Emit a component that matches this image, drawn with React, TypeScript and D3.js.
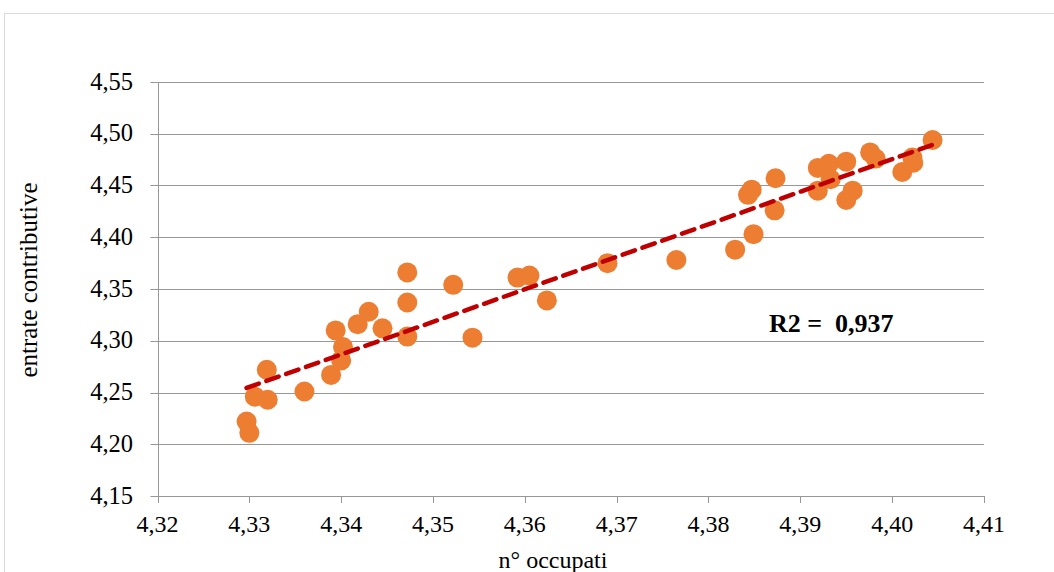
import React from "react";
import * as d3 from "d3";

const occupati: number[] = [
  4.3297, 4.33, 4.3306, 4.3319, 4.332, 4.336, 4.3389, 4.3394, 4.34, 4.3402,
  4.3418, 4.343, 4.3445, 4.3472, 4.3472, 4.3472, 4.3522, 4.3543, 4.3592, 4.3605,
  4.3624, 4.369, 4.3765, 4.3829, 4.3849, 4.3843, 4.3847, 4.3873, 4.3872, 4.3919,
  4.3931, 4.3933, 4.3919, 4.395, 4.3957, 4.395, 4.3976, 4.3982, 4.4011, 4.4022,
  4.4023, 4.4044,
];
const entrate: number[] = [
  4.222, 4.211, 4.246, 4.272, 4.243, 4.251, 4.267, 4.31, 4.281, 4.294,
  4.316, 4.328, 4.312, 4.366, 4.337, 4.304, 4.354, 4.303, 4.361, 4.363,
  4.339, 4.375, 4.378, 4.388, 4.403, 4.441, 4.446, 4.457, 4.426, 4.467,
  4.471, 4.456, 4.445, 4.473, 4.445, 4.436, 4.482, 4.476, 4.463, 4.477,
  4.472, 4.494,
];
const xTicks: number[] = [4.32, 4.33, 4.34, 4.35, 4.36, 4.37, 4.38, 4.39, 4.4, 4.41];
const yTicks: number[] = [4.15, 4.2, 4.25, 4.3, 4.35, 4.4, 4.45, 4.5, 4.55];
const xTitle = "n° occupati";
const yTitle = "entrate contributive";
const r2Label = "R2 =  0,937";

const W = 1054;
const H = 572;
const left = 157.5;
const right = 984;
const top = 82;
const bottom = 496;

const fmt = (v: number) => v.toFixed(2).replace(".", ",");

export default function App() {
  const x = d3.scaleLinear().domain([4.32, 4.41]).range([left, right]);
  const y = d3.scaleLinear().domain([4.15, 4.55]).range([bottom, top]);

  const n = occupati.length;
  const mx = d3.mean(occupati) as number;
  const my = d3.mean(entrate) as number;
  let sxy = 0;
  let sxx = 0;
  for (let i = 0; i < n; i++) {
    sxy += (occupati[i] - mx) * (entrate[i] - my);
    sxx += (occupati[i] - mx) ** 2;
  }
  const slope = sxy / sxx;
  const icpt = my - slope * mx;
  const x0 = d3.min(occupati) as number;
  const x1 = d3.max(occupati) as number;
  const line = d3.line<number>()
    .x((d) => x(d))
    .y((d) => y(icpt + slope * d));

  const font = "'Liberation Serif', 'Times New Roman', serif";

  return (
    <svg
      width={W}
      height={H}
      style={{ position: "absolute", left: 0, top: 0, background: "#fff" }}
      fontFamily={font}
    >
      <rect x={4.5} y={13.5} width={1070} height={600} fill="#fff" stroke="#d9d9d9" strokeWidth={1} />
      {yTicks.map((t) => (
        <g key={"y" + t}>
          <line x1={left - 7} x2={right} y1={Math.round(y(t)) + 0.5} y2={Math.round(y(t)) + 0.5} stroke="#979797" strokeWidth={1} />
          <text x={133} y={y(t) - 1} dy="0.35em" textAnchor="end" fontSize={24.5} fill="#000">
            {fmt(t)}
          </text>
        </g>
      ))}
      <line x1={Math.round(left) + 0.5} x2={Math.round(left) + 0.5} y1={top} y2={bottom} stroke="#979797" strokeWidth={1} />
      {xTicks.map((t) => (
        <g key={"x" + t}>
          <line x1={Math.round(x(t)) + 0.5} x2={Math.round(x(t)) + 0.5} y1={bottom} y2={bottom + 7} stroke="#979797" strokeWidth={1} />
          <text x={x(t)} y={532} textAnchor="middle" fontSize={24} fill="#000">
            {fmt(t)}
          </text>
        </g>
      ))}
      <text x={553} y={568} textAnchor="middle" fontSize={24} fill="#000">
        {xTitle}
      </text>
      <text
        transform={`translate(37, 280) rotate(-90)`}
        textAnchor="middle"
        fontSize={25}
        fill="#000"
      >
        {yTitle}
      </text>
      {occupati.map((v, i) => (
        <circle key={i} cx={x(v)} cy={y(entrate[i])} r={10} fill="#ED7D31" />
      ))}
      <path
        d={line([x0, x1]) || ""}
        fill="none"
        stroke="#C00000"
        strokeWidth={4.5}
        strokeDasharray="13 8"
        strokeLinecap="round"
      />
      <text x={769} y={332} fontSize={26} fontWeight="bold" fill="#000" style={{ whiteSpace: "pre" }}>
        {r2Label}
      </text>
    </svg>
  );
}
